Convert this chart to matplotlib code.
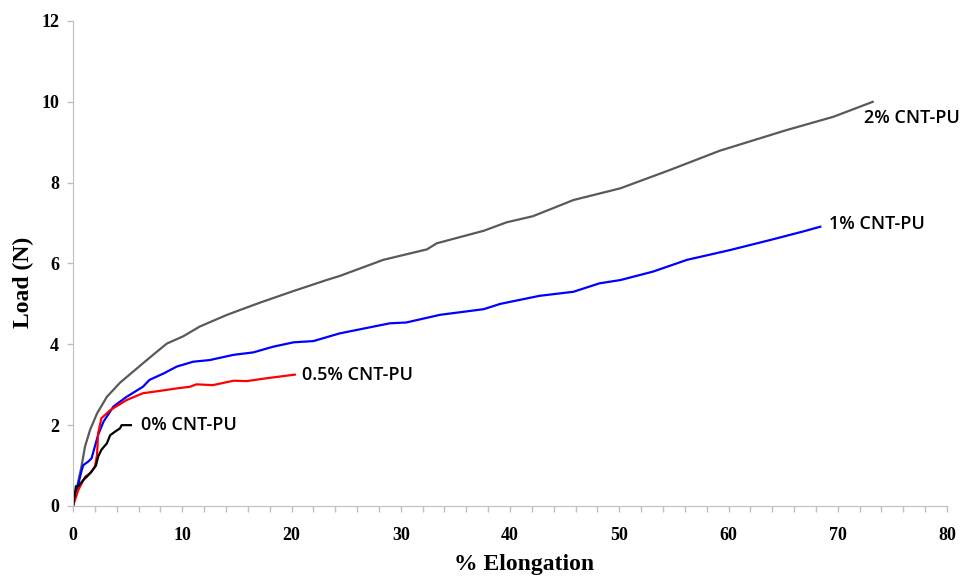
import numpy as np
import matplotlib
matplotlib.use('Agg')
import matplotlib.pyplot as plt
from matplotlib.ticker import MultipleLocator

# values (x = % elongation, y = load in N)
x_0 = [0, 0.27, 0.49, 0.94, 1.25, 1.7, 2.1, 2.3, 2.6, 3.1, 3.4, 3.85, 4.3, 4.45, 5.3]
y_0 = [0, 0.49, 0.49, 0.64, 0.72, 0.85, 1.0, 1.22, 1.39, 1.55, 1.75, 1.84, 1.92, 2.0, 2.0]

x_05 = [0, 0.49, 0.8, 1.1, 1.56, 2.0, 2.2, 2.3, 2.6, 3.4, 4.9, 6.4, 8.0, 9.5, 10.7,
        11.3, 12.8, 14.7, 15.9, 17.7, 20.3]
y_05 = [0, 0.4, 0.56, 0.72, 0.81, 0.97, 1.26, 1.8, 2.17, 2.37, 2.62, 2.79, 2.85, 2.91, 2.95,
        3.01, 2.99, 3.1, 3.09, 3.16, 3.25]

x_1 = [0, 0.8, 0.94, 1.4, 1.7, 2.0, 2.3, 2.8, 3.7, 4.9, 6.4, 7.0, 8.3, 9.5, 11.0, 12.5,
       14.7, 16.5, 18.3, 20.2, 22.0, 24.4, 29.0, 30.5, 33.6, 37.6, 39.1, 42.7, 45.8, 48.2,
       50.1, 53.1, 56.2, 60.1, 63.8, 66.8, 68.4]
y_1 = [0, 0.89, 1.01, 1.1, 1.18, 1.47, 1.76, 2.09, 2.46, 2.7, 2.95, 3.12, 3.28, 3.45, 3.57, 3.61,
       3.74, 3.8, 3.94, 4.05, 4.08, 4.27, 4.52, 4.54, 4.73, 4.87, 5.0, 5.2, 5.3, 5.51,
       5.59, 5.8, 6.09, 6.33, 6.58, 6.79, 6.91]

x_2 = [0, 0.8, 1.1, 1.56, 2.2, 3.1, 4.3, 6.4, 7.6, 8.6, 10.1, 11.6, 14.1, 17.1, 20.2, 23.2, 24.4,
       28.4, 32.4, 33.3, 37.6, 39.7, 42.1, 45.8, 50.1, 54.6, 59.2, 65.3, 69.6, 73.2]
y_2 = [0, 1.01, 1.47, 1.88, 2.29, 2.7, 3.05, 3.53, 3.8, 4.02, 4.2, 4.44, 4.73, 5.03, 5.32, 5.59, 5.69,
       6.09, 6.35, 6.5, 6.81, 7.02, 7.17, 7.57, 7.86, 8.31, 8.79, 9.3, 9.63, 10.0]

labels = ['0% CNT-PU', '0.5% CNT-PU', '1% CNT-PU', '2% CNT-PU']
label_xy = [(6.2, 2.0), (21.0, 3.24), (69.2, 6.98), (72.4, 9.6)]

fig = plt.figure(figsize=(9.63, 5.8), dpi=100)
ax = fig.add_axes([0.0758, 0.1276, 0.9076, 0.8362])

ax.plot(x_2, y_2, color='#595959', lw=1.6)
ax.plot(x_1, y_1, color='#0000ff', lw=1.6)
ax.plot(x_05, y_05, color='#ff0000', lw=1.6)
ax.plot(x_0, y_0, color='black', lw=1.6)

# curve labels next to the line ends
for lab, (lx, ly) in zip(labels, label_xy):
    ax.text(lx, ly, lab, fontsize=13, fontweight='semibold', family='Open Sans',
            va='center', ha='left')

ax.set_xlim(0, 80)
ax.set_ylim(0, 12)
ax.xaxis.set_major_locator(MultipleLocator(10))
ax.xaxis.set_minor_locator(MultipleLocator(2))
ax.yaxis.set_major_locator(MultipleLocator(2))

for side in ['top', 'right']:
    ax.spines[side].set_visible(False)
for side in ['left', 'bottom']:
    ax.spines[side].set_color('#bfbfbf')

ax.tick_params(which='both', direction='out', color='#bfbfbf', length=4, width=1)
ax.tick_params(axis='x', pad=11)
ax.tick_params(axis='y', pad=6)
for t in ax.get_xticklabels() + ax.get_yticklabels():
    t.set_family('Liberation Serif')
    t.set_fontweight('bold')
    t.set_fontsize(13)

ax.set_xlabel('% Elongation', family='Liberation Serif', fontweight='bold', fontsize=17)
ax.set_ylabel('Load (N)', family='Liberation Serif', fontweight='bold', fontsize=17)
ax.xaxis.set_label_coords(0.516, -0.1)
ax.yaxis.set_label_coords(-0.045, 0.462)

fig.savefig('out.png', dpi=100)
